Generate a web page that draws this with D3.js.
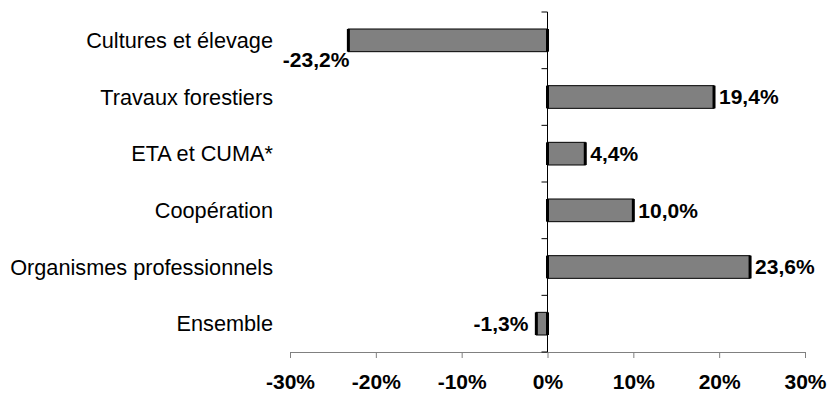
<!DOCTYPE html>
<html><head><meta charset="utf-8">
<script src="https://cdn.jsdelivr.net/npm/d3@7"></script>
<style>body{margin:0;background:#fff;}svg{display:block;font-family:Arial,"Liberation Sans",sans-serif;}</style>
</head><body>
<svg id="c" width="837" height="397"></svg>
<script>
const categories = ["Cultures et élevage","Travaux forestiers","ETA et CUMA*","Coopération","Organismes professionnels","Ensemble"];
const values = [-23.2, 19.4, 4.4, 10.0, 23.6, -1.3];
const xTicks = [-30,-20,-10,0,10,20,30];

const svg = d3.select("#c");
const x = d3.scaleLinear().domain([-30,30]).range([290,805]);
const y = d3.scaleBand().domain(categories).range([12,352]).paddingInner(0.6).paddingOuter(0.3);
const fmt = v => d3.format(".1f")(v).replace(".",",").replace("−","-") + "%";
const fs = 21;
const fsCat = 21.7;

// x axis
const xa = svg.append("g").attr("transform","translate(0,352)")
  .call(d3.axisBottom(x).tickValues(xTicks).tickSize(6).tickFormat(d=>d+"%"));
xa.select(".domain").attr("stroke","#808080");
xa.selectAll(".tick line").attr("stroke","#808080");
xa.selectAll(".tick text").attr("font-size",fs).attr("font-weight","bold").attr("fill","#000")
  .attr("font-family","Arial, 'Liberation Sans', sans-serif").attr("dy",0).attr("y",37);

// bars
const g = svg.append("g");
categories.forEach((c,i)=>{
  const v = values[i];
  const x0 = x(Math.min(0,v)), x1 = x(Math.max(0,v));
  const yy = y(c), h = y.bandwidth();
  g.append("rect").attr("x",x0).attr("y",yy).attr("width",x1-x0).attr("height",h)
    .attr("fill","#808080").attr("stroke","#000").attr("stroke-width",1);
  [x0,x1].forEach(xx=>g.append("line").attr("x1",xx).attr("x2",xx).attr("y1",yy).attr("y2",yy+h)
    .attr("stroke","#000").attr("stroke-width",3));
});

// y axis (category)
const ya = svg.append("g").attr("transform","translate("+x(0)+",0)");
ya.append("line").attr("x1",0).attr("x2",0).attr("y1",12).attr("y2",352).attr("stroke","#000");
const bounds = d3.range(categories.length+1).map(i=>12 + i*y.step());
ya.selectAll("line.t").data(bounds).join("line").attr("class","t")
  .attr("x1",-6).attr("x2",0).attr("y1",d=>d).attr("y2",d=>d).attr("stroke","#000");

// category labels
svg.append("g").selectAll("text").data(categories).join("text")
  .attr("x",273).attr("y",d=>y(d)+y.bandwidth()/2).attr("dy","0.35em")
  .attr("text-anchor","end").attr("font-size",fsCat).text(d=>d);

// value labels
categories.forEach((c,i)=>{
  const v = values[i];
  const cy = y(c)+y.bandwidth()/2;
  const t = svg.append("text").attr("font-size",fs).attr("font-weight","bold").text(fmt(v));
  if (v>=0) {
    t.attr("x",x(v)+5).attr("y",cy).attr("dy","0.35em");
  } else {
    const w = t.node().getComputedTextLength();
    if (x(v)-8-w < 290) {
      t.attr("x",x(v)+1).attr("y",y(c)+y.bandwidth()+15).attr("text-anchor","end");
    } else {
      t.attr("x",x(v)-8).attr("y",cy).attr("dy","0.35em").attr("text-anchor","end");
    }
  }
});
</script>
</body></html>
